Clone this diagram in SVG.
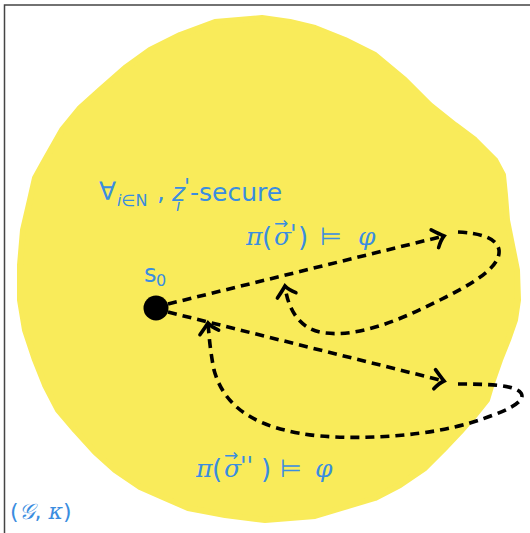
<svg xmlns="http://www.w3.org/2000/svg" width="530" height="533" viewBox="0 0 530 533">
<style>
.t{fill:#3a8de0;font-family:"DejaVu Sans",sans-serif}
.m{font-family:"DejaVu Serif",serif;font-style:italic}
.c{fill:none;stroke:#000;stroke-width:3.6;stroke-dasharray:9 6}
</style>
<defs>
<marker id="ah" markerUnits="userSpaceOnUse" markerWidth="30" markerHeight="30" viewBox="-15 -15 30 30" refX="0" refY="0" orient="auto" overflow="visible">
<path d="M-11,-9 Q-4,-3 0,0 Q-4,3 -8,10" fill="none" stroke="#000" stroke-width="3.6" stroke-linecap="round"/>
</marker>
</defs>
<rect x="0" y="0" width="530" height="533" fill="#fff"/>
<path d="M4.5,533 V5 H530" fill="none" stroke="#444" stroke-width="1.5"/>
<g id="region">
<path fill="#f9eb5a" d="M262,18 L290,22 L315,28 L345,40 L375,55 L405,80 L430,105 L455,125 L475,140 L495,160 L503,175 L505,195 L507,220 L512,245 L517,270 L518,300 L515,320 L508,340 L500,360 L493,380 L487,400 L475,415 L460,432 L443,450 L425,468 L400,485 L375,498 L345,507 L315,516 L265,520 L225,515 L188,508 L165,498 L140,487 L115,470 L95,452 L75,430 L58,410 L45,385 L35,360 L25,330 L20,300 L20,265 L23,230 L30,200 L35,178 L45,160 L62,130 L80,108 L100,90 L125,68 L150,50 L180,35 L215,22 Z" stroke="#f9eb5a" stroke-width="6" stroke-linejoin="round"/>
<text class="t" x="10" y="519" font-size="22">(<tspan class="m">𝒢</tspan>, <tspan class="m">κ</tspan>)</text>
</g>
<g id="labels">
<text class="t" font-size="25"><tspan x="99" y="200">∀</tspan><tspan x="117" y="206" font-size="16" font-style="italic">i</tspan><tspan font-size="16">∈N</tspan><tspan x="157" y="200">,</tspan><tspan x="172" y="201" font-style="italic">z</tspan><tspan x="184" y="194" font-size="22" font-style="italic">'</tspan><tspan x="176" y="211" font-size="16" font-style="italic">i</tspan><tspan x="190" y="201">-secure</tspan></text>
<text class="t" font-size="25"><tspan class="m" x="246" y="245">π</tspan><tspan x="262" y="246" font-size="26">(</tspan><tspan class="m" x="274" y="245">σ</tspan><tspan x="274" y="229" font-size="17">→</tspan><tspan x="290" y="242" font-size="24" font-style="italic">'</tspan><tspan x="298" y="246" font-size="26">)</tspan><tspan x="320" y="245">⊨</tspan><tspan class="m" x="358" y="245">φ</tspan></text>
<text class="t" font-size="25"><tspan class="m" x="196" y="477">π</tspan><tspan x="212" y="478" font-size="26">(</tspan><tspan class="m" x="224" y="477">σ</tspan><tspan x="224" y="461" font-size="17">→</tspan><tspan x="240" y="474" font-size="24" font-style="italic">''</tspan><tspan x="261" y="478" font-size="26">)</tspan><tspan x="280" y="477">⊨</tspan><tspan class="m" x="315" y="477">φ</tspan></text>
</g>
<g id="s0">
<circle cx="156" cy="308" r="12.5" fill="#000"/>
<text class="t" font-size="24"><tspan x="144" y="282">s</tspan><tspan x="156" y="286" font-size="16">0</tspan></text>
</g>
<g id="connectors">
<path class="c" d="M168,304 L444,236" marker-end="url(#ah)"/>
<path class="c" d="M168,312 L444,381" marker-end="url(#ah)"/>
<path class="c" d="M458,232 C480,233 497,238 499,250 C501,268 470,285 440,300 C400,320 360,337 325,333 C300,330 288,310 285,286" marker-end="url(#ah)"/>
<path class="c" d="M458,384 C490,384 515,385 521,393 C527,402 505,412 470,423 C430,435 370,440 320,436 C260,430 225,410 214,370 C210,350 209,335 208,323" marker-end="url(#ah)"/>
</g>
</svg>
